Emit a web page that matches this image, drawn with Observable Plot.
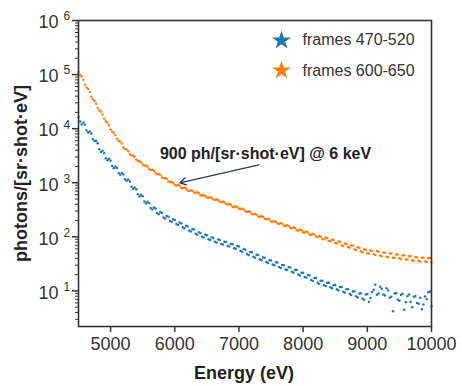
<!DOCTYPE html>
<html><head><meta charset="utf-8">
<script src="https://cdn.jsdelivr.net/npm/d3@7"></script>
<script src="https://cdn.jsdelivr.net/npm/@observablehq/plot@0.6"></script>
<style>body{margin:0;background:#fff}</style>
</head><body><div id="chart"></div>
<script>
const energy = [4500,4550,4600,4650,4700,4750,4800,4850,4900,4950,
5000,5050,5100,5150,5200,5250,5300,5350,5400,5450,
5500,5550,5600,5650,5700,5750,5800,5850,5900,5950,
6000,6050,6100,6150,6200,6250,6300,6350,6400,6450,
6500,6550,6600,6650,6700,6750,6800,6850,6900,6950,
7000,7050,7100,7150,7200,7250,7300,7350,7400,7450,
7500,7550,7600,7650,7700,7750,7800,7850,7900,7950,
8000,8050,8100,8150,8200,8250,8300,8350,8400,8450,
8500,8550,8600,8650,8700,8750,8800,8850,8900,8950,
9000,9050,9100,9150,9200,9250,9300,9350,9400,9450,
9500,9550,9600,9650,9700,9750,9800,9850,9900,9950,
10000];
const frames470 = [16500,12000,11800,8500,8100,5900,5400,3700,3550,2600,
2550,1850,1880,1400,1420,1090,1050,770,760,560,
565,415,420,322,333,262,276,218,236,190,
205,165,178,144,156,125,136,109,118,97,
107,87,96,79,87,72,80,66,73,60,
66,53,58,46,52,41,46,37,41,33,
36.5,30,33.5,26.5,29.8,24.3,27.2,21.6,24.3,19.3,
21.7,17.5,19.4,15.2,17.3,13.6,15.4,12.3,14.1,11.2,
12.9,10.2,11.8,9.3,10.8,8.4,9.9,7.6,9.1,6.9,
8.8,7.4,10.5,8.5,12.0,8.6,11.2,7.5,4.2,9.2,
6.6,8.9,6.2,8.6,5.0,8.1,5.8,4.6,7.9,9.5,
5.2];
const frames600 = [112000,92000,65000,54000,39000,32500,24000,20500,15200,13000,
9700,8400,6500,5800,4550,4100,3350,3180,2680,2520,
2180,2090,1810,1740,1510,1450,1250,1230,1070,1030,
910,915,810,815,725,728,660,665,588,592,
535,540,488,494,445,450,405,410,362,366,
330,334,294,297,268,265,238,242,217,216,
193,197,176,180,160,163,146,150,133,137,
121,125,110,114,101,104,91,97,85,89,
77,82,70,75,65,70,59,64,54,59,
50,56,48,54,45,51,43,49,41,47,
40,45,38,44,37,42,36,41,35,40,
34];
const energyOffset = [4525,4575,4625,4675,4725,4775,4825,4875,4925,4975,
5025,5075,5125,5175,5225,5275,5325,5375,5425,5475,
5525,5575,5625,5675,5725,5775,5825,5875,5925,5975,
6025,6075,6125,6175,6225,6275,6325,6375,6425,6475,
6525,6575,6625,6675,6725,6775,6825,6875,6925,6975,
7025,7075,7125,7175,7225,7275,7325,7375,7425,7475,
7525,7575,7625,7675,7725,7775,7825,7875,7925,7975,
8025,8075,8125,8175,8225,8275,8325,8375,8425,8475,
8525,8575,8625,8675,8725,8775,8825,8875,8925,8975,
9025,9075,9125,9175,9225,9275,9325,9375,9425,9475,
9525,9575,9625,9675,9725,9775,9825,9875,9925,9975];
const frames470Offset = [13500,13000,9300,8900,6400,6000,4150,3900,2850,2780,
2050,1990,1510,1510,1160,1150,840,820,610,600,
452,446,342,350,275,288,229,242,197,211,
172,184,150,160,131,139,114,121,100,109,
90,97,81,89,74,81,67.5,74,61.5,67.5,
55.5,59.5,48.3,52.4,43,46.7,38.4,41.6,34.2,37.1,
30.8,33.8,27.8,30.2,25,27.5,22.6,24.5,20.1,21.8,
18.1,19.7,16,17.3,14.2,15.5,12.8,14.1,11.7,12.8,
10.7,11.8,9.7,10.7,8.9,9.8,8.0,9.0,7.2,8.6,
6.3,9.6,13.0,9.0,11.0,8.2,10.2,7.8,9.0,6.9,
8.4,4.5,8.0,6.3,7.8,6.0,7.5,5.6,7.0,9.8];
const frames600Offset = [98000,80000,58000,47500,35000,29000,21800,18300,13700,11600,
8800,7650,6000,5300,4200,3820,3180,3000,2530,2400,
2080,2000,1730,1670,1440,1390,1210,1180,1020,990,
890,880,793,785,707,708,645,638,575,575,
524,525,478,480,436,437,397,394,354,356,
323,320,288,289,259,257,234,235,211,209,
190,191,173,174,158,159,144,145,131,132,
119,121,108,111,99,101,90,95,83,87,
76,80,68,74,63,69,57,63,52,58,
49,55,46,53,44,51,42,49,41,47,
39,46,38,44,36,42,35,41,34.5,41];

const seriesNames = ["frames 470-520", "frames 600-650"];
const seriesColors = ["#1f77b4", "#ff7f0e"];
const xTicks = [5000, 6000, 7000, 8000, 9000, 10000];
const yMajor = [10, 100, 1000, 10000, 100000, 1000000];
const yExponent = ["1", "2", "3", "4", "5", "6"];
const annotationLabel = ["900 ph/[sr·shot·eV] @ 6 keV"];
const annotationTextAt = [7414, 3400];
const arrowTail = [7310, 2140];
const arrowTip = [6080, 1000];

const points = [];
energy.forEach((e, i) => {
  points.push({energy: e, value: frames470[i], series: seriesNames[0]});
  points.push({energy: e, value: frames600[i], series: seriesNames[1]});
});
energyOffset.forEach((e, i) => {
  points.push({energy: e, value: frames470Offset[i], series: seriesNames[0]});
  points.push({energy: e, value: frames600Offset[i], series: seriesNames[1]});
});
const yMinor = d3.scaleLog().domain([2.2, 1e6]).ticks().filter(t => !yMajor.includes(t));
const majors = yMajor.map((v, i) => ({v, e: yExponent[i]}));
const font = "'Liberation Sans', Arial, Helvetica, sans-serif";

const chart = Plot.plot({
  width: 462, height: 386,
  marginLeft: 78, marginRight: 31, marginTop: 20, marginBottom: 60,
  style: {fontFamily: font, background: "#fff", color: "#333", overflow: "visible"},
  x: {domain: [4500, 10000]},
  y: {type: "log", domain: [2.2, 1e6]},
  color: {domain: seriesNames, range: seriesColors},
  marks: [
    Plot.dot(points, {x: "energy", y: "value", fill: "series", r: 1.25}),
    Plot.frame({stroke: "#333", strokeWidth: 1.6}),
    Plot.axisX({ticks: xTicks, tickSize: 6, tickPadding: 5, fontSize: 18, label: null, tickFormat: d => String(d), strokeWidth: 1.5, fill: "#333"}),
    Plot.axisY({ticks: yMinor, tickSize: 3, tickFormat: () => "", label: null, strokeWidth: 1}),
    Plot.axisY({ticks: yMajor, tickSize: 6, tickFormat: () => "", label: null, strokeWidth: 1.5}),
    Plot.text(majors, {y: "v", frameAnchor: "left", text: () => "10", textAnchor: "end", dx: -20, dy: 2, fontSize: 18, fill: "#333"}),
    Plot.text(majors, {y: "v", frameAnchor: "left", text: "e", textAnchor: "start", dx: -15, dy: -4, fontSize: 12, fill: "#333"}),
    Plot.text(["Energy (eV)"], {frameAnchor: "bottom", lineAnchor: "middle", dy: 47, dx: -11, fontSize: 18, fontWeight: "bold", fill: "#222"}),
    Plot.text(["photons/[sr·shot·eV]"], {frameAnchor: "left", textAnchor: "middle", lineAnchor: "middle", dx: -57, rotate: -90, fontSize: 18, fontWeight: "bold", fill: "#222"}),
    Plot.arrow([0], {x1: () => arrowTail[0], y1: () => arrowTail[1], x2: () => arrowTip[0], y2: () => arrowTip[1], stroke: "#2b3b4d", strokeWidth: 1.3, headLength: 8}),
    Plot.text(annotationLabel, {x: () => annotationTextAt[0], y: () => annotationTextAt[1], text: d => d, fontSize: 16, fontWeight: "bold", fill: "#222"}),
    Plot.dot([seriesNames[0]], {frameAnchor: "top-right", dx: -150, dy: 20, symbol: "star", r: 6, fill: seriesColors[0]}),
    Plot.dot([seriesNames[1]], {frameAnchor: "top-right", dx: -150, dy: 50, symbol: "star", r: 6, fill: seriesColors[1]}),
    Plot.text([seriesNames[0]], {frameAnchor: "top-right", lineAnchor: "middle", dx: -129, dy: 19, text: d => d, textAnchor: "start", fontSize: 16, fill: "#333"}),
    Plot.text([seriesNames[1]], {frameAnchor: "top-right", lineAnchor: "middle", dx: -129, dy: 50, text: d => d, textAnchor: "start", fontSize: 16, fill: "#333"})
  ]
});
document.getElementById("chart").append(chart);
</script>
</body></html>
